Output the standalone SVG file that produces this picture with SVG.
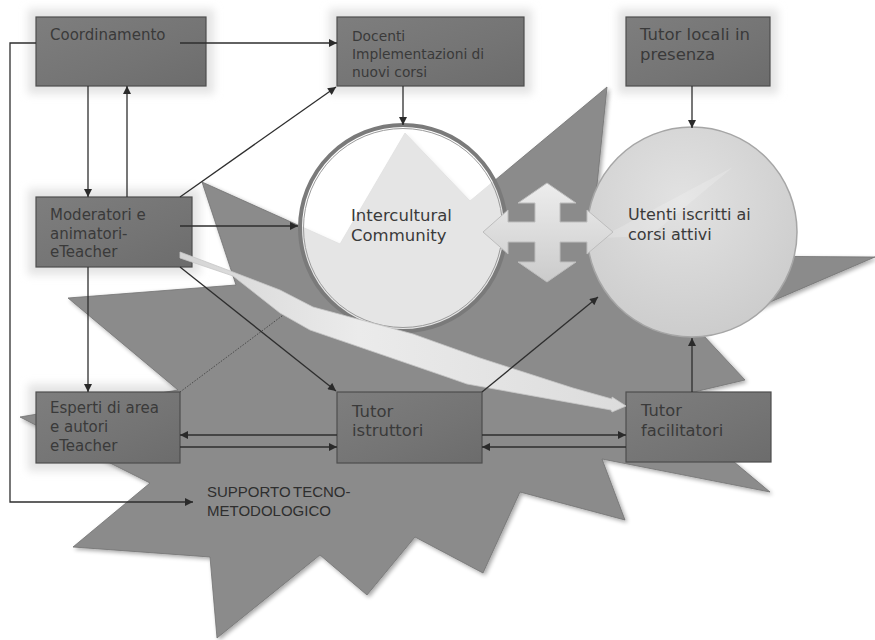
<svg xmlns="http://www.w3.org/2000/svg" width="875" height="640" viewBox="0 0 875 640">
  <defs>
    <style>
      .box { fill: url(#boxFill); stroke: #4e4e4e; stroke-width: 1.2; }
      .halo { fill: #e4e4e4; filter: url(#soft); }
      .lbl { font-family: "DejaVu Sans", Verdana, sans-serif; fill: #3a3a3a; }
      .conn { fill: none; stroke: #2e2e2e; stroke-width: 1.3; }
      .dot { fill: none; stroke: #4a4a4a; stroke-width: 1; stroke-dasharray: 1.5 1.5; }
    </style>
    <linearGradient id="boxFill" x1="0" y1="0" x2="1" y2="1">
      <stop offset="0" stop-color="#7e7e7e"/>
      <stop offset="0.6" stop-color="#747474"/>
      <stop offset="1" stop-color="#6c6c6c"/>
    </linearGradient>
    <linearGradient id="swooshFill" x1="0" y1="0" x2="1" y2="0">
      <stop offset="0" stop-color="#d4d4d4"/>
      <stop offset="0.4" stop-color="#ebebeb"/>
      <stop offset="1" stop-color="#dcdcdc"/>
    </linearGradient>
    <linearGradient id="crossFill" x1="0" y1="0" x2="0" y2="1">
      <stop offset="0" stop-color="#ededed"/>
      <stop offset="1" stop-color="#cbcbcb"/>
    </linearGradient>
    <radialGradient id="userFill" cx="0.45" cy="0.35" r="0.7">
      <stop offset="0" stop-color="#e2e2e2"/>
      <stop offset="1" stop-color="#cbcbcb"/>
    </radialGradient>
    <filter id="soft" x="-20%" y="-30%" width="140%" height="160%">
      <feGaussianBlur stdDeviation="4"/>
    </filter>
    <filter id="shadow" x="-10%" y="-10%" width="120%" height="120%">
      <feGaussianBlur in="SourceAlpha" stdDeviation="2"/>
      <feOffset dx="2" dy="2" result="o"/>
      <feComponentTransfer><feFuncA type="linear" slope="0.35"/></feComponentTransfer>
      <feMerge><feMergeNode/><feMergeNode in="SourceGraphic"/></feMerge>
    </filter>
    <marker id="arr" viewBox="0 0 10 10" refX="10" refY="5" markerWidth="9" markerHeight="8" markerUnits="userSpaceOnUse" orient="auto">
      <path d="M0,0 L10,5 L0,10 Z" fill="#2a2a2a"/>
    </marker>
  </defs>

  <rect width="875" height="640" fill="#ffffff"/>

  <!-- soft glow behind the upper and left boxes -->
  <g id="aloni">
    <rect class="halo" x="28" y="9" width="186" height="85"/>
    <rect class="halo" x="329" y="9" width="203" height="85"/>
    <rect class="halo" x="618" y="9" width="160" height="85"/>
    <rect class="halo" x="28" y="189" width="172" height="86"/>
    <rect class="halo" x="28" y="384" width="160" height="87"/>
  </g>

  <!-- background starburst -->
  <g id="starburst">
    <polygon filter="url(#shadow)" fill="#8b8b8b" stroke="#727272" stroke-width="0.8"
      points="202,182 340,244 405,133 470,201 607,87 596,195 720,256 875,257 740,315 690,321 745,380 660,400 770,492 602,459 625,520 520,492 483,573 415,537 367,595 320,555 217,638 210,557 73,547 150,483 110,463 20,417 178,390 68,298 236,285"/>
    <text x="207" y="497" font-family="'Liberation Sans', Arial, sans-serif" font-size="15" fill="#2e2e2e" word-spacing="-1.5">SUPPORTO TECNO-</text>
    <text x="207" y="516" font-family="'Liberation Sans', Arial, sans-serif" font-size="15" fill="#2e2e2e">METODOLOGICO</text>
  </g>

  <!-- community circle, translucent over the starburst -->
  <g id="intercultural">
    <circle cx="403" cy="228" r="103" fill="#ffffff" fill-opacity="0.78" stroke="#7a7a7a" stroke-width="4"/>
    <circle cx="403" cy="228" r="99.5" fill="none" stroke="#9a9a9a" stroke-width="1"/>
    <text class="lbl" font-size="16.5" fill="#333"><tspan x="351" y="221">Intercultural</tspan><tspan x="351" y="241">Community</tspan></text>
  </g>

  <!-- enrolled users circle -->
  <g id="utenti">
    <circle cx="692" cy="232" r="105" fill="url(#userFill)" stroke="#a6a6a6" stroke-width="1.5"/>
    <polygon points="733,167 600,238 650,236" fill="#ffffff" fill-opacity="0.18"/>
    <text class="lbl" font-size="16" fill="#333"><tspan x="628" y="220">Utenti iscritti ai</tspan><tspan x="628" y="240">corsi attivi</tspan></text>
  </g>

  <!-- two-way exchange cross -->
  <g id="scambio">
    <path d="M547,183 L576,203 L560,203 L560,222 L587,222 L587,210 L613,232 L587,254 L587,242 L560,242 L560,262 L576,262 L547,282 L518,262 L535,262 L535,242 L508,242 L508,254 L483,232 L508,210 L508,222 L535,222 L535,203 L518,203 Z"
      fill="url(#crossFill)" stroke="#bdbdbd" stroke-width="1"/>
  </g>

  <!-- role boxes -->
  <g id="coordinamento">
    <rect class="box" x="36" y="17" width="170" height="69"/>
    <text class="lbl" font-size="15" x="50" y="40">Coordinamento</text>
  </g>
  <g id="docenti">
    <rect class="box" x="337" y="17" width="187" height="69"/>
    <text class="lbl" font-size="13.8"><tspan x="352" y="41">Docenti</tspan><tspan x="352" y="59">Implementazioni di</tspan><tspan x="352" y="77">nuovi corsi</tspan></text>
  </g>
  <g id="tutor-locali">
    <rect class="box" x="626" y="17" width="144" height="69"/>
    <text class="lbl" font-size="16.5"><tspan x="640" y="40">Tutor locali in</tspan><tspan x="640" y="60">presenza</tspan></text>
  </g>
  <g id="moderatori">
    <rect class="box" x="36" y="197" width="156" height="70"/>
    <text class="lbl" font-size="15"><tspan x="50" y="220">Moderatori e</tspan><tspan x="50" y="238.5">animatori-</tspan><tspan x="50" y="257">eTeacher</tspan></text>
  </g>
  <g id="esperti">
    <rect class="box" x="36" y="392" width="144" height="71"/>
    <text class="lbl" font-size="15"><tspan x="50" y="413">Esperti di area</tspan><tspan x="50" y="432">e autori</tspan><tspan x="50" y="451">eTeacher</tspan></text>
  </g>
  <g id="tutor-istruttori">
    <rect class="box" x="337" y="392" width="145" height="71"/>
    <text class="lbl" font-size="16.5"><tspan x="352" y="417">Tutor</tspan><tspan x="352" y="436">istruttori</tspan></text>
  </g>
  <g id="tutor-facilitatori">
    <rect class="box" x="626" y="392" width="145" height="70"/>
    <text class="lbl" font-size="16.3"><tspan x="641" y="416">Tutor</tspan><tspan x="641" y="436">facilitatori</tspan></text>
  </g>

  <!-- connectors -->
  <g id="connettori">
    <path class="dot" d="M180,392 L290,310"/>
    <path id="swoosh" d="M180,252 L233,272 L280,290 L313,307 L413,334 L480,358 L573,388 L612,399 L612,397 L626,406 L612,412 L611,410 L467,384 L447,377 L380,354 L310,330 L280,313 L233,276 L180,258 Z"
      fill="url(#swooshFill)" stroke="#c6c6c6" stroke-width="0.8"/>
    <path class="conn" marker-end="url(#arr)" d="M180,43 H337"/>
    <path class="conn" marker-end="url(#arr)" d="M36,43 H10 V502 H193"/>
    <path class="conn" marker-end="url(#arr)" d="M88,86 V197"/>
    <path class="conn" marker-end="url(#arr)" d="M127,197 V86"/>
    <path class="conn" marker-end="url(#arr)" d="M180,197 L336,87"/>
    <path class="conn" marker-end="url(#arr)" d="M180,226 H298"/>
    <path class="conn" marker-end="url(#arr)" d="M180,267 L336,391"/>
    <path class="conn" marker-end="url(#arr)" d="M88,267 V392"/>
    <path class="conn" marker-end="url(#arr)" d="M337,435 H180"/>
    <path class="conn" marker-end="url(#arr)" d="M180,447 H337"/>
    <path class="conn" marker-end="url(#arr)" d="M482,435 H626"/>
    <path class="conn" marker-end="url(#arr)" d="M626,447 H482"/>
    <path class="conn" marker-end="url(#arr)" d="M692,392 V338"/>
    <path class="conn" marker-end="url(#arr)" d="M692,86 V128"/>
    <path class="conn" marker-end="url(#arr)" d="M403,86 V125"/>
    <path class="conn" marker-end="url(#arr)" d="M482,392 L598,297"/>
  </g>
</svg>
